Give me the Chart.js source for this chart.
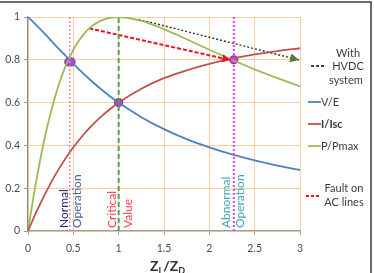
<!DOCTYPE html>
<html>
<head>
<meta charset="utf-8">
<script src="https://cdn.jsdelivr.net/npm/chart.js@4"></script>
<style>
  html, body { margin: 0; padding: 0; background: #fff; }
  #chart { display: block; }
</style>
</head>
<body>
<canvas id="chart" width="374" height="273"></canvas>
<script>
// --- DATA ---
const zValues   = [0, 0.05, 0.1, 0.2, 0.3, 0.4, 0.5, 0.6, 0.7, 0.8, 0.9, 1.0, 1.25, 1.5, 1.75, 2.0, 2.25, 2.5, 2.75, 3.0];
const vOverE    = [1, 0.980, 0.959, 0.915, 0.869, 0.825, 0.781, 0.740, 0.701, 0.665, 0.631, 0.600, 0.532, 0.476, 0.429, 0.391, 0.358, 0.330, 0.306, 0.285];
const iOverIsc  = [0, 0.049, 0.096, 0.183, 0.261, 0.330, 0.391, 0.444, 0.491, 0.532, 0.568, 0.600, 0.665, 0.714, 0.751, 0.781, 0.805, 0.825, 0.841, 0.854];
const pOverPmax = [0, 0.133, 0.255, 0.465, 0.630, 0.755, 0.847, 0.912, 0.956, 0.982, 0.996, 1.000, 0.982, 0.943, 0.896, 0.847, 0.800, 0.755, 0.714, 0.676];

const xTicks = [0, 0.5, 1, 1.5, 2, 2.5, 3];
const yTicks = [0, 0.2, 0.4, 0.6, 0.8, 1];

// operating points (normal, critical, abnormal)
const markerX = [0.46, 1.0, 2.27];
const pointX  = [0.45, 0.475, 1.0, 2.27];
const pointY  = [0.79, 0.79, 0.60, 0.80];

// arrows
const faultX = [0.675, 2.23];
const faultY = [0.947, 0.799];
const hvdcX  = [1.22, 2.99];
const hvdcY  = [0.989, 0.799];

const FONT = "Lato, 'Open Sans', sans-serif";
const zip = (xs, ys) => xs.map((x, i) => ({ x, y: ys[i] }));
const vline = (x) => [{ x, y: 0 }, { x, y: 1 }];

// --- PLUGIN: frame, annotations, legend, axis title ---
const decorations = {
  id: "decorations",
  beforeDraw(chart) {
    const { ctx, width, height } = chart;
    ctx.save();
    ctx.fillStyle = "#fff";
    ctx.fillRect(0, 0, width, height);
    ctx.restore();
  },
  afterDatasetsDraw(chart) {
    const { ctx, scales: { x, y } } = chart;
    ctx.save();

    // arrow heads
    const head = (xs, ys, color, len, half) => {
      const x0 = x.getPixelForValue(xs[0]), y0 = y.getPixelForValue(ys[0]);
      const x1 = x.getPixelForValue(xs[1]), y1 = y.getPixelForValue(ys[1]);
      const a = Math.atan2(y1 - y0, x1 - x0);
      ctx.fillStyle = color;
      ctx.beginPath();
      ctx.moveTo(x1, y1);
      ctx.lineTo(x1 - len * Math.cos(a) + half * Math.sin(a), y1 - len * Math.sin(a) - half * Math.cos(a));
      ctx.lineTo(x1 - len * Math.cos(a) - half * Math.sin(a), y1 - len * Math.sin(a) + half * Math.cos(a));
      ctx.closePath();
      ctx.fill();
    };
    head(faultX, faultY, "#e8141e", 8, 4);
    head(hvdcX, hvdcY, "#5b7a2e", 9, 4.5);

    // rotated labels
    const base = y.getPixelForValue(0) - 3;
    const vtext = (txt, px, color) => {
      ctx.save();
      ctx.translate(px, base);
      ctx.rotate(-Math.PI / 2);
      ctx.fillStyle = color;
      ctx.font = "12px " + FONT;
      ctx.textAlign = "left";
      ctx.textBaseline = "middle";
      ctx.fillText(txt, 0, 0);
      ctx.restore();
    };
    const xn = x.getPixelForValue(markerX[0]);
    const xc = x.getPixelForValue(markerX[1]);
    const xa = x.getPixelForValue(markerX[2]);
    vtext("Normal", xn - 6, "#23237e");
    vtext("Operation", xn + 7, "#4a64a8");
    vtext("Critical", xc - 7, "#ee3b48");
    vtext("Value", xc + 9, "#ee3b48");
    vtext("Abnormal", xa - 8, "#45a7b3");
    vtext("Operation", xa + 6, "#45a7b3");

    // legend
    ctx.font = "11px " + FONT;
    ctx.fillStyle = "#3a3a3a";
    ctx.textBaseline = "middle";
    ctx.textAlign = "center";
    ctx.fillText("With", 348, 53);
    ctx.fillText("HVDC", 348, 66);
    ctx.fillText("system", 346, 80);
    ctx.fillText("Fault on", 344, 188);
    ctx.fillText("AC lines", 344, 202);

    const seg = (x0, x1, yy, color, dash, w) => {
      ctx.save();
      ctx.strokeStyle = color;
      ctx.lineWidth = w;
      ctx.setLineDash(dash);
      ctx.beginPath();
      ctx.moveTo(x0, yy);
      ctx.lineTo(x1, yy);
      ctx.stroke();
      ctx.restore();
    };
    seg(311, 326, 66, "#3a4a2a", [3, 2], 1.8);
    seg(306, 320, 196, "#e8141e", [3, 2], 2);
    seg(308, 321, 102, "#4f81bd", [], 1.8);
    seg(308, 321, 124, "#c0504d", [], 1.8);
    seg(308, 321, 146, "#9bbb59", [], 1.8);
    ctx.textAlign = "left";
    ctx.fillStyle = "#3a3a3a";
    ctx.fillText("V/E", 321, 102);
    ctx.font = "bold 11px " + FONT;
    ctx.fillText("I/Isc", 321, 124);
    ctx.font = "11px " + FONT;
    ctx.fillText("P/Pmax", 321, 146);

    // axis title Z_L/Z_D
    ctx.fillStyle = "#333";
    ctx.textBaseline = "alphabetic";
    ctx.textAlign = "left";
    let tx = 150;
    const ty = 271;
    const part = (txt, font, dy) => {
      ctx.font = font;
      ctx.fillText(txt, tx, ty + dy);
      tx += ctx.measureText(txt).width;
    };
    part("Z", "bold 14px " + FONT, 0);
    part("L", "bold 9px " + FONT, 3);
    part("/Z", "bold 14px " + FONT, 0);
    part("D", "bold 9px " + FONT, 3);

    // frame
    ctx.strokeStyle = "#3c3c3c";
    ctx.lineWidth = 1.5;
    ctx.setLineDash([]);
    ctx.beginPath();
    ctx.moveTo(0, 2);
    ctx.lineTo(371, 2);
    ctx.lineTo(371, 273);
    ctx.stroke();

    ctx.restore();
  }
};

// --- CHART ---
const ctx = document.getElementById("chart");
new Chart(ctx, {
  type: "scatter",
  data: {
    datasets: [
      { data: vline(markerX[0]), showLine: true, borderColor: "#f08a9a", borderWidth: 1.5, borderDash: [2, 2], pointRadius: 0 },
      { data: vline(markerX[1]), showLine: true, borderColor: "#4fa34f", borderWidth: 2, borderDash: [5, 3], pointRadius: 0 },
      { data: vline(markerX[2]), showLine: true, borderColor: "#e040f0", borderWidth: 2, borderDash: [2, 2], pointRadius: 0 },
      { label: "V/E", data: zip(zValues, vOverE), showLine: true, borderColor: "#4f81bd", borderWidth: 1.8, pointRadius: 0, cubicInterpolationMode: "monotone" },
      { label: "I/Isc", data: zip(zValues, iOverIsc), showLine: true, borderColor: "#c0504d", borderWidth: 1.8, pointRadius: 0, cubicInterpolationMode: "monotone" },
      { label: "P/Pmax", data: zip(zValues, pOverPmax), showLine: true, borderColor: "#9bbb59", borderWidth: 1.8, pointRadius: 0, cubicInterpolationMode: "monotone" },
      { data: zip(faultX, faultY), showLine: true, borderColor: "#e8141e", borderWidth: 2, borderDash: [4, 2], pointRadius: 0 },
      { data: zip(hvdcX, hvdcY), showLine: true, borderColor: "#333", borderWidth: 1.4, borderDash: [2, 2], pointRadius: 0 },
      { data: zip(pointX, pointY), showLine: false, pointRadius: 4, pointBackgroundColor: "#e030e0", pointBorderColor: "#7a3cb0", pointBorderWidth: 1.2 }
    ]
  },
  options: {
    responsive: false,
    animation: false,
    layout: { padding: { left: 0, right: 74, top: 17, bottom: 0 } },
    plugins: { legend: { display: false }, tooltip: { enabled: false } },
    scales: {
      x: {
        type: "linear",
        min: 0,
        max: 3,
        afterBuildTicks: (s) => { s.ticks = xTicks.map(v => ({ value: v })); },
        afterFit: (s) => { s.height = 42; },
        grid: { color: "#f6cfa6", lineWidth: 1, tickColor: "#a0a0a0", tickLength: 4, drawTicks: true },
        border: { color: "#a0a0a0", width: 1.2 },
        ticks: { font: { family: FONT, size: 10.5 }, color: "#4a4a4a", padding: 7, maxRotation: 0, callback: (v) => String(v) }
      },
      y: {
        type: "linear",
        min: 0,
        max: 1,
        afterBuildTicks: (s) => { s.ticks = yTicks.map(v => ({ value: v })); },
        afterFit: (s) => { s.width = 28; },
        grid: { color: "#f6cfa6", lineWidth: 1, tickColor: "#a0a0a0", tickLength: 4 },
        border: { color: "#8a8a8a", width: 1.2 },
        ticks: { font: { family: FONT, size: 10.5 }, color: "#4a4a4a", padding: 4, callback: (v) => String(Math.round(v * 10) / 10) }
      }
    }
  },
  plugins: [decorations]
});
</script>
</body>
</html>
